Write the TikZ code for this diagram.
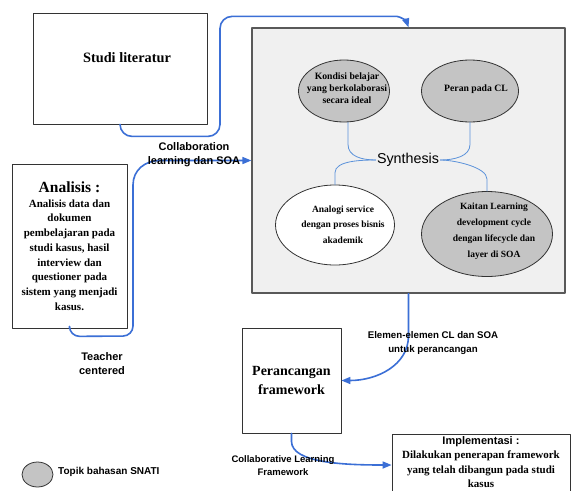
\documentclass[tikz,border=0pt]{standalone}
\usepackage{fontspec}
\setmainfont{Liberation Serif}
\setsansfont{Liberation Sans}
\usetikzlibrary{shapes.geometric,arrows.meta}
\definecolor{flowblue}{HTML}{3B6FD6}
\definecolor{linkblue}{HTML}{5B92DA}
\definecolor{topicgray}{HTML}{C4C4C4}
\definecolor{panelgray}{HTML}{F0F0F0}
\tikzset{
  box/.style={draw=black!80, line width=0.8pt, fill=white},
  topic/.style={ellipse, draw=black!80, line width=0.8pt, fill=topicgray, inner sep=0pt},
  topictext/.style={align=center, inner sep=0pt, font=\bfseries\fontsize{9.7}{12}\selectfont},
  flow/.style={draw=flowblue, line width=1.6pt, -{Triangle[length=9pt,width=7pt]}},
  link/.style={draw=linkblue, line width=0.8pt},
  lbl/.style={align=center, inner sep=0pt, font=\sffamily\bfseries\fontsize{11}{14}\selectfont},
}
\begin{document}
\begin{tikzpicture}[x=1pt, y=-1pt, line join=round, line cap=round]
\useasboundingbox[fill=white] (0,0) rectangle (572,490);
% left column
\node[box, minimum width=174pt, minimum height=111pt] (studi) at (120,68.5) {};
\node[font=\bfseries\fontsize{14.3}{16}\selectfont] (studititle) at (127,58) {Studi literatur};
\node[box, minimum width=115pt, minimum height=164pt, align=center, font=\bfseries\fontsize{11}{14.7}\selectfont] (analisis) at (69.5,246) {{\fontsize{15.5}{17}\selectfont Analisis :}\\ Analisis data dan\\ dokumen\\ pembelajaran pada\\ studi kasus, hasil\\ interview dan\\ questioner pada\\ sistem yang menjadi\\ kasus.};
% synthesis panel
\node[draw=black!65, line width=1.2pt, fill=panelgray, minimum width=313pt, minimum height=265pt] (synth) at (408.5,160.5) {};
\node[font=\sffamily\fontsize{14.3}{16}\selectfont, inner sep=1pt] (syn) at (408,160) {Synthesis};
\node[topic, minimum width=91pt, minimum height=62pt] (kondisi) at (344,91) {};
\node[topictext] at (347,88) {Kondisi belajar\\ yang berkolaborasi\\ secara ideal};
\node[topic, minimum width=97pt, minimum height=62pt] (peran) at (470,91) {};
\node[topictext] at (476,89) {Peran pada CL};
\node[topic, fill=white, minimum width=119pt, minimum height=80pt] (analogi) at (335,225) {};
\node[topictext, font=\bfseries\fontsize{9.5}{15.5}\selectfont] at (343,224.5) {Analogi service\\ dengan proses bisnis\\ akademik};
\node[topic, minimum width=131pt, minimum height=85pt] (kaitan) at (487,234) {};
\node[topictext, font=\bfseries\fontsize{9.5}{16}\selectfont] at (494,231) {Kaitan Learning\\ development cycle\\ dengan lifecycle dan\\ layer di SOA};
\draw[link] ([xshift=4pt]kondisi.south) -- ++(0,22) .. controls +(0,12) and +(-14,0) .. (syn.west);
\draw[link] (analogi.north) -- ++(0,-12) .. controls +(0,-12) and +(-14,0) .. (syn.west);
\draw[link] (peran.south) -- ++(0,22) .. controls +(0,12) and +(14,0) .. (syn.east);
\draw[link] (kaitan.north) -- ++(0,-12) .. controls +(0,-12) and +(14,0) .. (syn.east);
% lower boxes
\node[box, minimum width=99pt, minimum height=105pt, align=center, font=\bfseries\fontsize{14}{19}\selectfont] (rancang) at (291.5,380.5) {Perancangan\\ framework};
\node[box, minimum width=178pt, minimum height=62pt] (impl) at (481,465) {};
\node[anchor=north, align=center, inner sep=0pt, font=\bfseries\fontsize{11}{14.5}\selectfont] (impltext) at (481,436) {{\sffamily\fontsize{11}{14.5}\selectfont Implementasi :}\\ Dilakukan penerapan framework\\ yang telah dibangun pada studi\\ kasus};
% legend
\node[topic, minimum width=31pt, minimum height=25pt] (legend) at (37.5,474.5) {};
\node[lbl, anchor=west, font=\sffamily\bfseries\fontsize{10}{12}\selectfont] (legendtext) at (58,472) {Topik bahasan SNATI};
% arrows
\draw[flow, rounded corners=12pt] (studi.south) -- ++(0,12) -- ++(100,0) -- ++(0,-120) -- ++(165,0) .. controls +(15,0) and +(-2,-6) .. (synth.north);
\draw[flow, rounded corners=10pt] (analisis.south) -- ++(0,8) -- (133,336) -- (133,195) .. controls +(0,-25) and +(-25,0) .. (170,160.5) -- (synth.west);
\draw[flow] (synth.south) -- ++(0,42) .. controls +(0,30) and +(35,0) .. (rancang.east);
\draw[flow] (rancang.south) -- ++(0,8) .. controls +(0,22) and +(-45,0) .. (impl.west);
% arrow labels
\node[lbl] (collablbl) at (194,154.5) {Collaboration\\ learning dan SOA};
\node[lbl, font=\sffamily\bfseries\fontsize{9.7}{13.5}\selectfont] (elemenlbl) at (433,343) {Elemen-elemen CL dan SOA\\ untuk perancangan};
\node[lbl] (teacherlbl) at (102,364) {Teacher\\ centered};
\node[lbl, font=\sffamily\bfseries\fontsize{9.5}{13}\selectfont] (cllbl) at (283,465.5) {Collaborative Learning\\ Framework};
\end{tikzpicture}
\end{document}
